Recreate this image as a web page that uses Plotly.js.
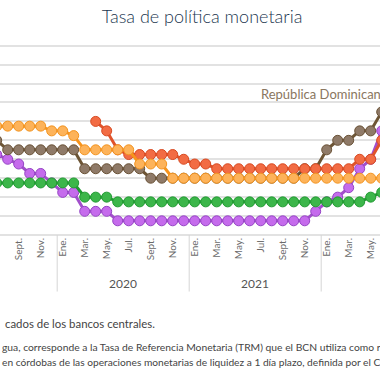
<!DOCTYPE html>
<html>
<head>
<meta charset="utf-8">
<script src="https://cdn.plot.ly/plotly-3.0.1.min.js"></script>
<style>
  html, body { margin:0; padding:0; background:#fff; overflow:hidden; }
  #chart { width:380px; height:380px; }
</style>
</head>
<body>
<div id="chart"></div>
<script>
// Months from Jul. 2019 to Jun. 2022
const monthNames = ['Jul.','Ago.','Sept.','Oct.','Nov.','Dic.',
  'Ene.','Feb.','Mar.','Abr.','May.','Jun.','Jul.','Ago.','Sept.','Oct.','Nov.','Dic.',
  'Ene.','Feb.','Mar.','Abr.','May.','Jun.','Jul.','Ago.','Sept.','Oct.','Nov.','Dic.',
  'Ene.','Feb.','Mar.','Abr.','May.','Jun.'];
const monthNums = [7,8,9,10,11,12, 1,2,3,4,5,6,7,8,9,10,11,12, 1,2,3,4,5,6,7,8,9,10,11,12, 1,2,3,4,5,6];
const monthYears = [2019,2019,2019,2019,2019,2019,
  2020,2020,2020,2020,2020,2020,2020,2020,2020,2020,2020,2020,
  2021,2021,2021,2021,2021,2021,2021,2021,2021,2021,2021,2021,
  2022,2022,2022,2022,2022,2022];
const yearLabels = ['2019','2020','2021','2022'];

// Policy rates (%)
const costaRica = [4.25,4.0,3.75,3.25,3.25,2.75,
  2.25,2.25,1.25,1.25,1.25,0.75,0.75,0.75,0.75,0.75,0.75,0.75,
  0.75,0.75,0.75,0.75,0.75,0.75,0.75,0.75,0.75,0.75,0.75,1.25,
  1.75,2.0,2.5,3.5,4.0,5.5];
const repDominicana = [5.0,4.5,4.5,4.5,4.5,4.5,
  4.5,4.5,3.5,3.5,3.5,3.5,3.5,3.5,3.0,3.0,3.0,3.0,
  3.0,3.0,3.0,3.0,3.0,3.0,3.0,3.0,3.0,3.0,3.5,3.5,
  4.5,5.0,5.0,5.5,5.5,6.5];
const nicaragua = [null,null,null,null,null,null,
  null,null,null,6.0,5.5,4.5,4.25,4.25,4.25,4.25,4.25,4.0,
  3.75,3.75,3.5,3.5,3.5,3.5,3.5,3.5,3.5,3.5,3.5,3.5,
  3.5,3.5,3.5,4.0,4.0,5.0];
const guatemala = [2.75,2.75,2.75,2.75,2.75,2.75,
  2.75,2.75,2.0,2.0,2.0,1.75,1.75,1.75,1.75,1.75,1.75,1.75,
  1.75,1.75,1.75,1.75,1.75,1.75,1.75,1.75,1.75,1.75,1.75,1.75,
  1.75,1.75,1.75,1.75,2.0,2.25];
const honduras = [5.75,5.75,5.75,5.75,5.75,5.5,
  5.5,5.25,4.5,4.5,4.5,4.5,4.5,3.75,3.75,3.75,3.0,3.0,
  3.0,3.0,3.0,3.0,3.0,3.0,3.0,3.0,3.0,3.0,3.0,3.0,
  3.0,3.0,3.0,3.0,3.0,3.0];

const idx = monthNames.map((_, i) => i);

function series(name, y, line, fill, edge) {
  return {
    type: 'scatter', mode: 'lines+markers', name: name,
    x: idx, y: y,
    line: {color: line, width: 3},
    marker: {size: 10, color: fill, line: {color: edge, width: 1}},
    hoverinfo: 'skip'
  };
}

const traces = [
  series('Costa Rica', costaRica, '#a24fcb', '#c56bec', '#9444c4'),
  series('República Dominicana', repDominicana, '#6d5535', '#8f7a68', '#6a5236'),
  series('Nicaragua', nicaragua, '#e0532b', '#f26c44', '#d84a22'),
  series('Guatemala', guatemala, '#1f9b30', '#3cb64a', '#229a33'),
  series('Honduras', honduras, '#f7941d', '#fdb35a', '#f39420')
];

// ticks every other month (odd months)
const tickvals = [], ticktext = [];
idx.forEach(i => { if (monthNums[i] % 2 === 1) { tickvals.push(i); ticktext.push(monthNames[i]); } });

// year labels and separators
const annotations = [];
const shapes = [];
yearLabels.forEach(yl => {
  const yr = +yl;
  const first = monthYears.indexOf(yr);
  const jan = first - (monthNums[first] - 1);
  annotations.push({
    xref: 'x', yref: 'paper', x: jan + 5.5, y: 0, yshift: -48,
    text: yl, showarrow: false, xanchor: 'center', yanchor: 'middle',
    font: {family: 'Lato', size: 12, color: '#555'}
  });
  if (jan > 0) {
    shapes.push({type: 'line', xref: 'x', yref: 'paper', x0: jan - 0.5, x1: jan - 0.5,
      y0: 0, y1: -0.29, line: {color: '#d6d6d6', width: 1}});
  }
});

annotations.push({
  xref: 'paper', yref: 'paper', x: 259/380, y: 0, yshift: 235-94,
  text: 'República Dominicana', showarrow: false, xanchor: 'left', yanchor: 'middle',
  font: {family: 'Lato', size: 13, color: '#8a7660'}
});

const notes = [
  {t: 'cados de los bancos centrales.', y: 323, s: 11.4, dx: 3},
  {t: 'gua, corresponde a la Tasa de Referencia Monetaria (TRM) que el BCN utiliza como referencia', y: 347, s: 10.3, dx: 0},
  {t: 'en córdobas de las operaciones monetarias de liquidez a 1 día plazo, definida por el Consejo', y: 362, s: 10.2, dx: 0}
];
notes.forEach(n => annotations.push({
  xref: 'paper', yref: 'paper', x: 0, y: 0, xshift: n.dx, yshift: -(n.y - 235),
  text: n.t, showarrow: false, xanchor: 'left', yanchor: 'middle',
  font: {family: 'Lato', size: n.s, color: '#444'}
}));

const layout = {
  width: 380, height: 380,
  margin: {l: 0, r: 0, t: 40, b: 145, pad: 0},
  paper_bgcolor: '#fff', plot_bgcolor: '#fff',
  showlegend: false,
  title: {text: 'Tasa de política monetaria', x: 202/380, xanchor: 'center',
    y: 1 - 17/380, yanchor: 'middle', yref: 'container',
    font: {family: 'Lato', size: 18, weight: 300, color: '#22364f'}},
  xaxis: {
    range: [0.3, 0.3 + 380/11], showgrid: false, zeroline: false,
    tickmode: 'array', tickvals: tickvals, ticktext: ticktext,
    tickangle: -90, ticks: '', showline: false,
    tickfont: {family: 'Lato', size: 10, color: '#6a6a6a'}
  },
  yaxis: {
    range: [0, 10.3], dtick: 1, tick0: 0, showticklabels: false,
    gridcolor: '#e2e2e2', gridwidth: 2, zeroline: true, zerolinecolor: '#e2e2e2', zerolinewidth: 2,
    ticks: ''
  },
  annotations: annotations,
  shapes: shapes
};

Plotly.newPlot('chart', traces, layout, {staticPlot: true, displayModeBar: false});
</script>
</body>
</html>
